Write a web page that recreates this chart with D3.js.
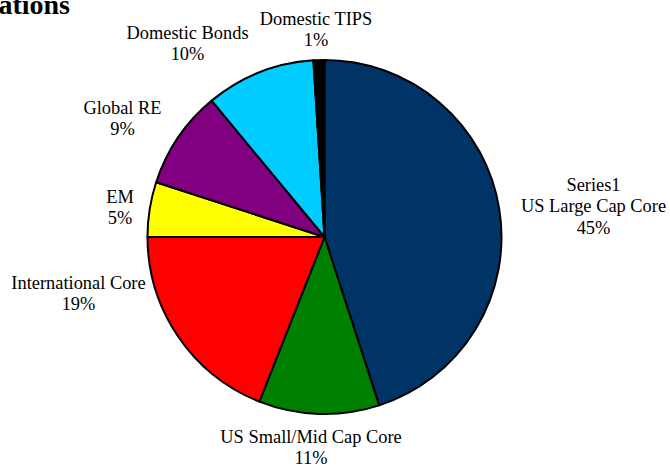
<!DOCTYPE html>
<html>
<head>
<meta charset="utf-8">
<script src="https://cdn.jsdelivr.net/npm/d3@7"></script>
<style>
  html, body { margin: 0; padding: 0; background: #fff; }
  svg { display: block; }
  text { font-family: "Liberation Serif", "Times New Roman", serif; fill: #000; }
</style>
</head>
<body>
<svg id="chart" width="670" height="467"></svg>
<script>
// Portfolio allocation by asset class (percent of total)
const seriesName = "Series1";
const categories = [
  "US Large Cap Core",
  "US Small/Mid Cap Core",
  "International Core",
  "EM",
  "Global RE",
  "Domestic Bonds",
  "Domestic TIPS"
];
const values = [45, 11, 19, 5, 9, 10, 1];
const sliceColors = ["#003366", "#008000", "#FF0000", "#FFFF00", "#800080", "#00CCFF", "#000000"];

const width = 670, height = 467;
const cx = 324.5, cy = 237, radius = 177;

// Label boxes: centre x and first baseline, relative to the pie centre
const labelLayout = {
  "US Large Cap Core":     { dx: 269, dy: -46 },
  "US Small/Mid Cap Core": { dx: -13.5, dy: 206 },
  "International Core":    { dx: -246, dy: 52 },
  "EM":                    { dx: -204.5, dy: -34.5 },
  "Global RE":             { dx: -202, dy: -123.5 },
  "Domestic Bonds":        { dx: -137, dy: -198 },
  "Domestic TIPS":         { dx: -8.5, dy: -212 }
};
const lineStep = 21.3;

const svg = d3.select("#chart");

// Title (runs off the left edge of the canvas)
svg.append("text")
  .attr("x", 70)
  .attr("y", 14)
  .attr("text-anchor", "end")
  .style("font-size", "28px")
  .style("font-weight", "bold")
  .text("Allocations");

const data = categories.map((c, i) => ({ category: c, value: values[i], color: sliceColors[i] }));

const pie = d3.pie().sort(null).value(d => d.value);
const arc = d3.arc().innerRadius(0).outerRadius(radius);
const arcs = pie(data);

const g = svg.append("g").attr("transform", `translate(${cx},${cy})`);

g.selectAll("path.slice")
  .data(arcs)
  .join("path")
  .attr("class", "slice")
  .attr("d", arc)
  .attr("fill", d => d.data.color)
  .attr("stroke", "#000")
  .attr("stroke-width", 2)
  .attr("stroke-linejoin", "round");

const total = d3.sum(values);
const fmtPct = v => Math.round(v / total * 100) + "%";

const labels = g.selectAll("text.label")
  .data(arcs)
  .join("text")
  .attr("class", "label")
  .attr("text-anchor", "middle")
  .style("font-size", "18.4px");

labels.each(function(d, i) {
  const pos = labelLayout[d.data.category];
  const lines = (i === 0 ? [seriesName] : []).concat([d.data.category, fmtPct(d.data.value)]);
  const t = d3.select(this);
  lines.forEach((ln, k) => {
    t.append("tspan")
      .attr("x", pos.dx)
      .attr("y", pos.dy + k * lineStep)
      .text(ln);
  });
});
</script>
</body>
</html>
